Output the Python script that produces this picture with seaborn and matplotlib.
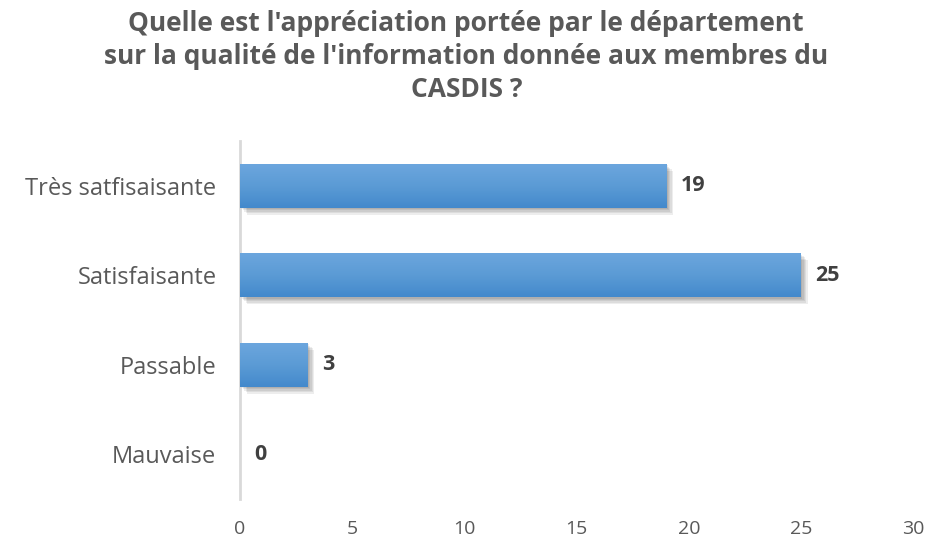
import numpy as np
import pandas as pd
import matplotlib
matplotlib.use("Agg")
import matplotlib.pyplot as plt
import matplotlib.patheffects as pe
import seaborn as sns

categories = ["Très satfisaisante", "Satisfaisante", "Passable", "Mauvaise"]
values = [19, 25, 3, 0]
x_ticks = [0, 5, 10, 15, 20, 25, 30]

sns.set_theme(style="white")
plt.rcParams['font.family'] = ['Open Sans', 'DejaVu Sans']

df = pd.DataFrame({"categorie": categories, "valeur": values})

fig = plt.figure(figsize=(9.27, 5.4), dpi=100)
ax = fig.add_axes([0.259, 0.076, 0.726, 0.663])

sns.barplot(data=df, x="valeur", y="categorie", orient="h", color="#5B9BD5",
            width=0.49, ax=ax, zorder=2)

# dégradé vertical + ombre douce façon Excel
grad = np.linspace(0, 1, 256).reshape(-1, 1)
cmap = matplotlib.colors.LinearSegmentedColormap.from_list(
    "bleu", ["#6CA6DE", "#5B9BD5", "#4389CC"])
ombre = [pe.SimplePatchShadow(offset=(d, -d), shadow_rgbFace="#000000", alpha=0.07)
         for d in (1, 2, 3, 4, 5)]
for p in ax.patches:
    p.set_edgecolor("none")
    p.set_path_effects(ombre + [pe.Normal()])
    x0, y0 = p.get_x(), p.get_y()
    w, h = p.get_width(), p.get_height()
    if w <= 0:
        continue
    im = ax.imshow(grad, cmap=cmap, aspect="auto", extent=[x0, x0 + w, y0 + h, y0],
                   zorder=3, interpolation="bicubic")
    im.set_clip_path(p)

for i, v in enumerate(values):
    ax.text(v + 0.65, i, str(v), va="center", ha="left", fontsize=15.5,
            fontweight="bold", color="#404040")

ax.set_xlim(0, 30)
ax.set_ylim(3.5, -0.5)
ax.set_xticks(x_ticks)
ax.set_xlabel("")
ax.set_ylabel("")
ax.tick_params(axis="x", labelsize=14, labelcolor="#595959", length=0, pad=15)
ax.tick_params(axis="y", labelsize=17, labelcolor="#595959", length=0, pad=17)
for s in ["top", "right", "bottom"]:
    ax.spines[s].set_visible(False)
ax.spines["left"].set_color("#D9D9D9")
ax.spines["left"].set_linewidth(2)

fig.suptitle("Quelle est l'appréciation portée par le département\n"
             "sur la qualité de l'information donnée aux membres du\nCASDIS ?",
             x=0.503, y=0.982, fontsize=19, fontweight="bold", color="#595959",
             linespacing=1.3)

fig.savefig("out.png", dpi=100)
